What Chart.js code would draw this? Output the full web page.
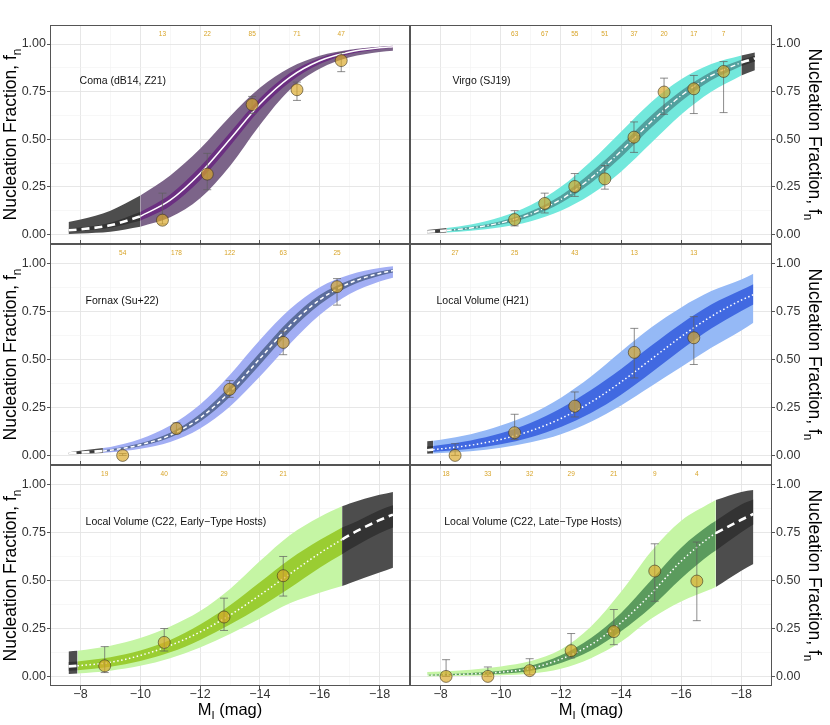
<!DOCTYPE html>
<html lang="en">
<head>
<meta charset="UTF-8">
<title>Nucleation Fraction vs M_I</title>
<script src="https://cdn.jsdelivr.net/npm/chart.js"></script>
<style>
  body { margin: 0; background: #fff; }
  #wrap { position: relative; width: 830px; height: 725px; }
  #wrap canvas { position: absolute; left: 0; top: 0; }
</style>
</head>
<body>
<div id="wrap">
  <canvas id="c-coma" width="830" height="725"></canvas>
  <canvas id="c-virgo" width="830" height="725"></canvas>
  <canvas id="c-fornax" width="830" height="725"></canvas>
  <canvas id="c-h21" width="830" height="725"></canvas>
  <canvas id="c-early" width="830" height="725"></canvas>
  <canvas id="c-late" width="830" height="725"></canvas>
</div>
<script>
// ---- Coma (dB14, Z21) ----
const comaMag   = [-7.6, -8, -9, -10, -11, -12, -13, -14, -15, -16, -17, -18, -18.45];
const comaMid   = [0.022, 0.027, 0.048, 0.095, 0.18, 0.32, 0.5, 0.685, 0.825, 0.912, 0.958, 0.98, 0.986];
const comaOutHi = [0.066, 0.078, 0.125, 0.205, 0.31, 0.45, 0.62, 0.77, 0.875, 0.938, 0.97, 0.986, 0.991];
const comaOutLo = [0.003, 0.005, 0.014, 0.04, 0.09, 0.19, 0.36, 0.575, 0.76, 0.87, 0.93, 0.958, 0.965];
const comaInHi  = [0.03, 0.036, 0.062, 0.118, 0.21, 0.355, 0.535, 0.715, 0.848, 0.926, 0.966, 0.985, 0.99];
const comaInLo  = [0.014, 0.018, 0.035, 0.072, 0.15, 0.285, 0.465, 0.655, 0.8, 0.895, 0.948, 0.973, 0.98];
const comaRange = [-10, -18.45];
const comaBin   = [-10.74, -12.24, -13.74, -15.24, -16.72];
const comaFrac  = [0.075, 0.317, 0.682, 0.76, 0.913];
const comaErrLo = [0.055, 0.235, 0.635, 0.704, 0.855];
const comaErrHi = [0.217, 0.426, 0.725, 0.80, 0.955];
const comaN     = [13, 22, 85, 71, 47];

// ---- Virgo (SJ19) ----
const virgoMag   = [-7.55, -8.2, -9, -10, -11, -12, -13, -14, -15, -16, -17, -18, -18.45];
const virgoMid   = [0.014, 0.021, 0.034, 0.061, 0.108, 0.184, 0.296, 0.438, 0.592, 0.729, 0.834, 0.903, 0.925];
const virgoOutHi = [0.024, 0.034, 0.053, 0.092, 0.155, 0.25, 0.385, 0.54, 0.695, 0.815, 0.895, 0.94, 0.955];
const virgoOutLo = [0.007, 0.011, 0.02, 0.038, 0.07, 0.125, 0.21, 0.33, 0.48, 0.63, 0.75, 0.835, 0.862];
const virgoInHi  = [0.017, 0.025, 0.04, 0.07, 0.122, 0.205, 0.325, 0.47, 0.625, 0.755, 0.855, 0.918, 0.938];
const virgoInLo  = [0.011, 0.017, 0.028, 0.052, 0.095, 0.165, 0.27, 0.405, 0.56, 0.70, 0.81, 0.885, 0.908];
const virgoRange = [-8.2, -18];
const virgoBin   = [-10.46, -11.46, -12.46, -13.46, -14.43, -15.43, -16.42, -17.41];
const virgoFrac  = [0.078, 0.163, 0.252, 0.292, 0.511, 0.748, 0.765, 0.856];
const virgoErrLo = [0.045, 0.113, 0.2, 0.238, 0.431, 0.631, 0.635, 0.64];
const virgoErrHi = [0.125, 0.217, 0.32, 0.362, 0.591, 0.821, 0.835, 0.908];
const virgoN     = [63, 67, 55, 51, 37, 20, 17, 7];

// ---- Fornax (Su+22) ----
const fornaxMag   = [-7.6, -8.75, -9, -10, -11, -12, -13, -14, -15, -16, -17, -18, -18.45];
const fornaxMid   = [0.01, 0.023, 0.027, 0.055, 0.105, 0.195, 0.331, 0.504, 0.675, 0.81, 0.897, 0.947, 0.962];
const fornaxOutHi = [0.016, 0.038, 0.044, 0.085, 0.155, 0.265, 0.42, 0.6, 0.76, 0.875, 0.94, 0.975, 0.984];
const fornaxOutLo = [0.005, 0.013, 0.016, 0.035, 0.07, 0.14, 0.255, 0.41, 0.58, 0.73, 0.84, 0.905, 0.925];
const fornaxInHi  = [0.012, 0.027, 0.032, 0.063, 0.118, 0.215, 0.36, 0.535, 0.705, 0.835, 0.912, 0.957, 0.968];
const fornaxInLo  = [0.008, 0.019, 0.022, 0.047, 0.093, 0.175, 0.305, 0.472, 0.645, 0.785, 0.88, 0.935, 0.952];
const fornaxRange = [-8.75, -18.45];
const fornaxBin   = [-9.41, -11.21, -12.99, -14.78, -16.58];
const fornaxFrac  = [0.0, 0.14, 0.344, 0.588, 0.878];
const fornaxErrLo = [0.0, 0.113, 0.302, 0.524, 0.782];
const fornaxErrHi = [0.01, 0.169, 0.389, 0.646, 0.92];
const fornaxN     = [54, 178, 122, 63, 25];

// ---- Local Volume (H21) ----
const h21Mag   = [-7.55, -7.75, -8, -9, -10, -11, -12, -13, -14, -15, -16, -17, -18, -18.4];
const h21Mid   = [0.027, 0.03, 0.034, 0.053, 0.083, 0.128, 0.192, 0.277, 0.382, 0.5, 0.618, 0.723, 0.808, 0.836];
const h21OutHi = [0.073, 0.076, 0.082, 0.11, 0.155, 0.215, 0.3, 0.41, 0.54, 0.665, 0.77, 0.855, 0.915, 0.945];
const h21OutLo = [0.009, 0.01, 0.012, 0.022, 0.04, 0.068, 0.11, 0.175, 0.26, 0.36, 0.46, 0.56, 0.65, 0.69];
const h21InHi  = [0.046, 0.049, 0.054, 0.078, 0.115, 0.17, 0.245, 0.34, 0.45, 0.57, 0.685, 0.785, 0.86, 0.89];
const h21InLo  = [0.016, 0.018, 0.021, 0.035, 0.058, 0.095, 0.148, 0.22, 0.315, 0.43, 0.55, 0.66, 0.752, 0.785];
const h21Range = [-7.75, -18.4];
const h21Bin   = [-8.48, -10.46, -12.46, -14.44, -16.42];
const h21Frac  = [0.0, 0.118, 0.256, 0.536, 0.612];
const h21ErrLo = [0.0, 0.083, 0.2, 0.403, 0.473];
const h21ErrHi = [0.061, 0.214, 0.33, 0.661, 0.722];
const h21N     = [27, 25, 43, 13, 13];

// ---- Local Volume (C22, Early-Type Hosts) ----
const earlyMag   = [-7.6, -7.9, -9, -10, -11, -12, -13, -14, -15, -16, -16.75, -17, -18, -18.45];
const earlyMid   = [0.052, 0.055, 0.073, 0.109, 0.161, 0.231, 0.319, 0.423, 0.533, 0.641, 0.713, 0.736, 0.813, 0.842];
const earlyOutHi = [0.13, 0.133, 0.16, 0.2, 0.26, 0.34, 0.455, 0.6, 0.735, 0.83, 0.885, 0.9, 0.945, 0.96];
const earlyOutLo = [0.012, 0.015, 0.03, 0.055, 0.095, 0.15, 0.22, 0.3, 0.38, 0.435, 0.47, 0.485, 0.54, 0.565];
const earlyInHi  = [0.075, 0.078, 0.1, 0.135, 0.19, 0.27, 0.37, 0.49, 0.61, 0.71, 0.775, 0.79, 0.865, 0.89];
const earlyInLo  = [0.03, 0.032, 0.05, 0.08, 0.125, 0.19, 0.27, 0.36, 0.46, 0.565, 0.635, 0.66, 0.745, 0.775];
const earlyRange = [-7.9, -16.75];
const earlyBin   = [-8.81, -10.8, -12.8, -14.78];
const earlyFrac  = [0.055, 0.177, 0.309, 0.524];
const earlyErrLo = [0.02, 0.132, 0.239, 0.418];
const earlyErrHi = [0.155, 0.249, 0.407, 0.624];
const earlyN     = [19, 40, 29, 21];

// ---- Local Volume (C22, Late-Type Hosts) ----
const lateMag   = [-7.55, -8, -9, -10, -11, -12, -13, -14, -15, -16, -17, -17.15, -18, -18.4];
const lateMid   = [0.006, 0.008, 0.013, 0.022, 0.042, 0.09, 0.165, 0.28, 0.43, 0.6, 0.73, 0.745, 0.815, 0.845];
const lateOutHi = [0.023, 0.026, 0.035, 0.052, 0.08, 0.14, 0.26, 0.44, 0.65, 0.81, 0.905, 0.918, 0.96, 0.97];
const lateOutLo = [0.0, 0.001, 0.003, 0.006, 0.015, 0.04, 0.095, 0.18, 0.3, 0.39, 0.455, 0.465, 0.55, 0.585];
const lateInHi  = [0.009, 0.011, 0.018, 0.03, 0.056, 0.11, 0.2, 0.33, 0.5, 0.67, 0.795, 0.81, 0.895, 0.92];
const lateInLo  = [0.004, 0.005, 0.008, 0.014, 0.03, 0.07, 0.135, 0.235, 0.36, 0.51, 0.64, 0.655, 0.75, 0.79];
const lateRange = [-7.55, -17.15];
const lateBin   = [-8.18, -9.57, -10.96, -12.34, -13.76, -15.12, -16.52];
const lateFrac  = [0.0, 0.0, 0.03, 0.134, 0.233, 0.548, 0.496];
const lateErrLo = [0.0, 0.0, 0.009, 0.096, 0.165, 0.391, 0.29];
const lateErrHi = [0.087, 0.049, 0.092, 0.223, 0.348, 0.69, 0.699];
const lateN     = [18, 33, 32, 29, 21, 9, 4];

const FONT = '"Liberation Sans", Arial, Helvetica, sans-serif';
Chart.defaults.font.family = FONT;
Chart.defaults.animation = false;

const panels = [
  { id: 'c-coma', row: 0, col: 0, label: 'Coma (dB14, Z21)', labelMag: -7.97,
    mag: comaMag, mid: comaMid, outHi: comaOutHi, outLo: comaOutLo, inHi: comaInHi, inLo: comaInLo, range: comaRange,
    bin: comaBin, frac: comaFrac, errLo: comaErrLo, errHi: comaErrHi, n: comaN,
    outer: '#7c6489', inner: '#6b2f81', dash: [], lw: 1.5 },
  { id: 'c-virgo', row: 0, col: 1, label: 'Virgo (SJ19)', labelMag: -8.39,
    mag: virgoMag, mid: virgoMid, outHi: virgoOutHi, outLo: virgoOutLo, inHi: virgoInHi, inLo: virgoInLo, range: virgoRange,
    bin: virgoBin, frac: virgoFrac, errLo: virgoErrLo, errHi: virgoErrHi, n: virgoN,
    outer: '#72e8dc', inner: '#52a09e', dash: [5, 2.5, 1.2, 2.5], lw: 1.4 },
  { id: 'c-fornax', row: 1, col: 0, label: 'Fornax (Su+22)', labelMag: -8.17,
    mag: fornaxMag, mid: fornaxMid, outHi: fornaxOutHi, outLo: fornaxOutLo, inHi: fornaxInHi, inLo: fornaxInLo, range: fornaxRange,
    bin: fornaxBin, frac: fornaxFrac, errLo: fornaxErrLo, errHi: fornaxErrHi, n: fornaxN,
    outer: '#a2aef4', inner: '#5b6d9c', dash: [4, 3], lw: 1.5 },
  { id: 'c-h21', row: 1, col: 1, label: 'Local Volume (H21)', labelMag: -7.86,
    mag: h21Mag, mid: h21Mid, outHi: h21OutHi, outLo: h21OutLo, inHi: h21InHi, inLo: h21InLo, range: h21Range,
    bin: h21Bin, frac: h21Frac, errLo: h21ErrLo, errHi: h21ErrHi, n: h21N,
    outer: '#95b9f6', inner: '#4169e1', dash: [1.5, 2.5], lw: 1.5 },
  { id: 'c-early', row: 2, col: 0, label: 'Local Volume (C22, Early\u2212Type Hosts)', labelMag: -8.17,
    mag: earlyMag, mid: earlyMid, outHi: earlyOutHi, outLo: earlyOutLo, inHi: earlyInHi, inLo: earlyInLo, range: earlyRange,
    bin: earlyBin, frac: earlyFrac, errLo: earlyErrLo, errHi: earlyErrHi, n: earlyN,
    outer: '#c5f5a4', inner: '#9acd32', dash: [1.5, 2.5], lw: 1.5 },
  { id: 'c-late', row: 2, col: 1, label: 'Local Volume (C22, Late\u2212Type Hosts)', labelMag: -8.12,
    mag: lateMag, mid: lateMid, outHi: lateOutHi, outLo: lateOutLo, inHi: lateInHi, inLo: lateInLo, range: lateRange,
    bin: lateBin, frac: lateFrac, errLo: lateErrLo, errHi: lateErrHi, n: lateN,
    outer: '#c5f5a4', inner: '#5b9b5d', dash: [1.5, 2.5], lw: 1.5 }
];

const GREY_OUT = '#4d4d4d', GREY_IN = '#333333';

function line(points, extra) {
  return Object.assign({
    data: points, pointRadius: 0, borderWidth: 0, borderColor: 'rgba(0,0,0,0)',
    fill: false, cubicInterpolationMode: 'monotone'
  }, extra);
}

// band + fit line datasets, split into the grey (extrapolated) and coloured parts
function curveSets(p) {
  const sets = [];
  const last = p.mag[p.mag.length - 1];
  const segs = [
    { a: p.mag[0], b: p.range[0], grey: true },
    { a: p.range[0], b: p.range[1], grey: false },
    { a: p.range[1], b: last, grey: true }
  ];
  segs.forEach(s => {
    const hi = Math.max(s.a, s.b) + 1e-9, lo = Math.min(s.a, s.b) - 1e-9;
    const idx = p.mag.map((m, i) => i).filter(i => p.mag[i] <= hi && p.mag[i] >= lo);
    if (idx.length < 2) return;
    const pts = arr => idx.map(i => ({ x: p.mag[i], y: arr[i] }));
    sets.push(
      line(pts(p.outHi), { fill: '+1', backgroundColor: s.grey ? GREY_OUT : p.outer, order: 6 }),
      line(pts(p.outLo), { order: 6 }),
      line(pts(p.inHi), { fill: '+1', backgroundColor: s.grey ? GREY_IN : p.inner, order: 5 }),
      line(pts(p.inLo), { order: 5 }),
      line(pts(p.mid), {
        borderColor: '#ffffff', order: 4,
        borderWidth: s.grey ? 2.6 : p.lw,
        borderDash: s.grey ? [8, 5] : p.dash
      })
    );
  });
  return sets;
}

function subText(ctx, cx, cy, angle, main, sub, tail, size) {
  ctx.save();
  ctx.translate(cx, cy);
  ctx.rotate(angle);
  const f1 = size + 'px ' + FONT, f2 = (size * 0.68).toFixed(1) + 'px ' + FONT;
  ctx.font = f1;
  const w1 = ctx.measureText(main).width, w3 = ctx.measureText(tail).width;
  ctx.font = f2;
  const w2 = ctx.measureText(sub).width;
  const x0 = -(w1 + w2 + w3) / 2, base = size * 0.36;
  ctx.fillStyle = '#000';
  ctx.textAlign = 'left';
  ctx.textBaseline = 'alphabetic';
  ctx.font = f1; ctx.fillText(main, x0, base);
  ctx.font = f2; ctx.fillText(sub, x0 + w1, base + size * 0.25);
  ctx.font = f1; ctx.fillText(tail, x0 + w1 + w2, base);
  ctx.restore();
}

const errorBars = {
  id: 'errorBars',
  beforeDatasetDraw(chart, args) {
    const ds = chart.data.datasets[args.index];
    if (!ds.errLo) return;
    const { ctx, scales: { x, y } } = chart;
    ctx.save();
    ctx.strokeStyle = 'rgba(95,95,95,0.8)';
    ctx.lineWidth = 0.9;
    ds.data.forEach((d, i) => {
      const px = x.getPixelForValue(d.x);
      const y1 = y.getPixelForValue(ds.errLo[i]), y2 = y.getPixelForValue(ds.errHi[i]);
      ctx.beginPath();
      ctx.moveTo(px, y1); ctx.lineTo(px, y2);
      ctx.moveTo(px - 4, y1); ctx.lineTo(px + 4, y1);
      ctx.moveTo(px - 4, y2); ctx.lineTo(px + 4, y2);
      ctx.stroke();
    });
    ctx.restore();
  }
};

const panelText = {
  id: 'panelText',
  afterDraw(chart, args, o) {
    const { ctx, chartArea: a, scales: { x, y } } = chart;
    ctx.save();
    ctx.strokeStyle = '#555';
    ctx.lineWidth = 1;
    ctx.strokeRect(a.left + 0.5, a.top + 0.5, a.width - 1, a.height - 1);

    ctx.font = '6.5px ' + FONT;
    ctx.fillStyle = '#d8a428';
    ctx.textAlign = 'center';
    ctx.textBaseline = 'middle';
    o.bin.forEach((m, i) => ctx.fillText(String(o.n[i]), x.getPixelForValue(m), y.getPixelForValue(1.05)));

    ctx.font = '10.5px ' + FONT;
    ctx.fillStyle = '#111';
    ctx.textAlign = 'left';
    ctx.fillText(o.label, x.getPixelForValue(o.labelMag), y.getPixelForValue(0.805));
    ctx.restore();

    const cy = (a.top + a.bottom) / 2;
    if (o.col === 0) subText(ctx, 10, cy, -Math.PI / 2, 'Nucleation Fraction, f', 'n', '', 17.5);
    else subText(ctx, 815, cy, Math.PI / 2, 'Nucleation Fraction, f', 'n', '', 17.5);
    if (o.row === 2) subText(ctx, (a.left + a.right) / 2, 709, 0, 'M', 'I', ' (mag)', 16.5);
  }
};

const isMajorX = v => Math.abs(v % 2) < 1e-6;
const isMajorY = v => Math.abs(v * 4 - Math.round(v * 4)) < 1e-6;

function xScale(row, position) {
  const bottom = position === 'bottom';
  return {
    type: 'linear', position, reverse: true, min: -19.02, max: -6.98,
    ticks: {
      stepSize: 1, includeBounds: false, autoSkip: false, maxRotation: 0,
      display: bottom && row === 2, color: '#333', font: { size: 12.5 }, padding: -3,
      callback: v => isMajorX(v) ? '\u2212' + Math.abs(v) : ''
    },
    grid: {
      drawOnChartArea: bottom,
      color: c => isMajorX(c.tick.value) ? '#e4e4e4' : '#f2f2f2',
      lineWidth: c => isMajorX(c.tick.value) ? 0.9 : 0.6,
      tickColor: c => isMajorX(c.tick.value) ? '#444' : 'rgba(0,0,0,0)',
      tickLength: 4
    },
    border: { display: false },
    afterFit: s => { s.height = (bottom && row === 2) ? 39 : 0; }
  };
}

panels.forEach(p => {
  const top = [25, 244, 465][p.row];
  const padBottom = [481, 260, 0][p.row];
  const right = p.col === 1;

  const datasets = curveSets(p);
  datasets.push({
    data: p.bin.map((m, i) => ({ x: m, y: p.frac[i] })),
    showLine: false, order: 0,
    pointRadius: 6, pointHoverRadius: 6,
    pointBackgroundColor: 'rgba(218,168,40,0.68)',
    pointBorderColor: 'rgba(60,50,30,0.75)', pointBorderWidth: 0.8,
    errLo: p.errLo, errHi: p.errHi
  });

  const scales = {
    x: xScale(p.row, 'bottom'),
    y: {
      type: 'linear', position: right ? 'right' : 'left', min: -0.05, max: 1.10,
      ticks: {
        stepSize: 0.125, includeBounds: false, autoSkip: false, color: '#333',
        font: { size: 12.5 }, padding: 1,
        callback: v => isMajorY(v) ? v.toFixed(2) : ''
      },
      grid: {
        color: c => isMajorY(c.tick.value) ? '#e4e4e4' : '#f2f2f2',
        lineWidth: c => isMajorY(c.tick.value) ? 0.9 : 0.6,
        tickColor: c => isMajorY(c.tick.value) ? '#444' : 'rgba(0,0,0,0)',
        tickLength: 3
      },
      border: { display: false },
      afterFit: s => { s.width = right ? 58 : 50; }
    }
  };
  if (p.row > 0) scales.xt = xScale(p.row, 'top');

  new Chart(document.getElementById(p.id), {
    type: 'line',
    data: { datasets },
    options: {
      responsive: false,
      animation: false,
      events: [],
      layout: { padding: { top, bottom: padBottom, left: right ? 410 : 0, right: right ? 0 : 420 } },
      scales,
      plugins: {
        legend: { display: false },
        tooltip: { enabled: false },
        panelText: { bin: p.bin, n: p.n, label: p.label, labelMag: p.labelMag, row: p.row, col: p.col }
      }
    },
    plugins: [errorBars, panelText]
  });
});
</script>
</body>
</html>
